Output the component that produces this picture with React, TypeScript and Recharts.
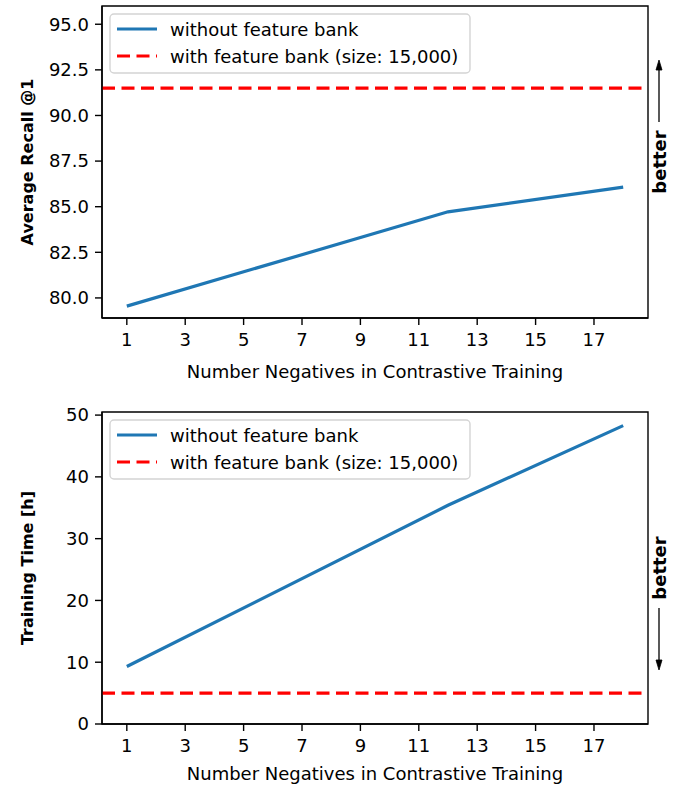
import React from "react";
import { LineChart, Line, XAxis, YAxis, ReferenceLine, ReferenceArea } from "recharts";

// values
const negatives = [1, 12, 18];
const recallWithout = [79.55, 84.72, 86.07];
const recallWithBank = 91.5;
const hoursWithout = [9.3, 35.4, 48.3];
const hoursWithBank = 5.0;

const xTicks = [1, 3, 5, 7, 9, 11, 13, 15, 17];
const recallTicks = [80, 82.5, 85, 87.5, 90, 92.5, 95];
const hoursTicks = [0, 10, 20, 30, 40, 50];

const seriesNames = ["without feature bank", "with feature bank (size: 15,000)"];
const xLabel = "Number Negatives in Contrastive Training";

const BLUE = "#1f77b4";
const RED = "#ff0000";
const FONT = "'DejaVu Sans', sans-serif";

const W = 683;
const PLOT_LEFT = 102;
const PLOT_RIGHT = 648;
const PLOT_H = 312;
const X_AXIS_H = 60;
const X_DOMAIN: [number, number] = [0.15, 18.85];

type PanelProps = {
  values: number[];
  bank: number;
  yDomain: [number, number];
  yTicks: number[];
  yFmt: (v: number) => string;
  yLabel: string;
  arrowUp: boolean;
  height: number;
  plotTop: number;
  xLabelGap: number;
};

const Panel: React.FC<PanelProps> = ({ values, bank, yDomain, yTicks, yFmt, yLabel, arrowUp, height, plotTop, xLabelGap }) => {
  const data = negatives.map((x, i) => ({ x, y: values[i] }));
  const bottom = height - plotTop - PLOT_H - X_AXIS_H;
  const mid = plotTop + PLOT_H / 2;
  const plotBottom = plotTop + PLOT_H;
  const ax = 659;

  // arrow next to "better"
  const start = arrowUp ? mid - 40 : mid + 40;
  const tip = arrowUp ? mid - 102 : mid + 102;
  const d = arrowUp ? 1 : -1;

  const yLab = () => (
    <text x={27} y={mid} transform={`rotate(-90 27 ${mid})`} textAnchor="middle" dominantBaseline="central"
      fontFamily={FONT} fontWeight="bold" fontSize={16} fill="#000">{yLabel}</text>
  );

  const xLab = () => (
    <text x={(PLOT_LEFT + PLOT_RIGHT) / 2} y={plotBottom + xLabelGap} textAnchor="middle"
      fontFamily={FONT} fontSize={18} fill="#000">{xLabel}</text>
  );

  const axisStyle = { stroke: "#000", strokeWidth: 1.4 };
  const tickStyle = { fill: "#000", fontSize: 18, fontFamily: FONT };

  return (
    <div style={{ position: "relative", width: W, height }}>
      <LineChart width={W} height={height} data={data}
        margin={{ top: plotTop, right: W - PLOT_RIGHT, bottom, left: 0 }}>
        <XAxis dataKey="x" type="number" domain={X_DOMAIN} ticks={xTicks} interval={0} allowDataOverflow
          height={X_AXIS_H} tickSize={7} tickMargin={8} axisLine={axisStyle} tickLine={axisStyle} tick={tickStyle}
          label={xLab} />
        <YAxis type="number" domain={yDomain} ticks={yTicks} interval={0} allowDataOverflow width={PLOT_LEFT}
          tickSize={7} tickMargin={6} tickFormatter={yFmt} axisLine={axisStyle} tickLine={axisStyle} tick={tickStyle}
          label={yLab} />
        <ReferenceLine y={bank} stroke={RED} strokeWidth={3.2} strokeDasharray="13 6.5" />
        <Line dataKey="y" stroke={BLUE} strokeWidth={3.2} dot={false} isAnimationActive={false} />
        <ReferenceArea x1={X_DOMAIN[0]} x2={X_DOMAIN[1]} y1={yDomain[0]} y2={yDomain[1]}
          fill="none" fillOpacity={0} stroke="#000" strokeWidth={1.4} />
      </LineChart>
      <svg width={W} height={height} style={{ position: "absolute", left: 0, top: 0, pointerEvents: "none" }}>
        <g transform={`translate(109 ${plotTop + 7})`}>
          <rect x={1} y={1} width={360} height={59} rx={4} fill="rgba(255,255,255,0.8)" stroke="#d4d4d4" strokeWidth={1.4} />
          <line x1={8} y1={16} x2={48} y2={16} stroke={BLUE} strokeWidth={3.2} />
          <line x1={8} y1={43} x2={48} y2={43} stroke={RED} strokeWidth={3.2} strokeDasharray="13 6.5" />
          <text x={61} y={16} dominantBaseline="central" fontFamily={FONT} fontSize={18} fill="#000">{seriesNames[0]}</text>
          <text x={61} y={43} dominantBaseline="central" fontFamily={FONT} fontSize={18} fill="#000">{seriesNames[1]}</text>
        </g>
        <text x={ax} y={mid} transform={`rotate(-90 ${ax} ${mid})`} textAnchor="middle" dominantBaseline="central"
          fontFamily={FONT} fontWeight="bold" fontSize={18} fill="#000">better</text>
        <line x1={ax} y1={start} x2={ax} y2={tip + d * 6} stroke="#000" strokeWidth={1.3} />
        <path d={`M ${ax - 3} ${tip + d * 10} L ${ax} ${tip} L ${ax + 3} ${tip + d * 10} Z`} fill="#000" stroke="#000" strokeWidth={0.8} />
      </svg>
    </div>
  );
};

const App: React.FC = () => (
  <div style={{ position: "absolute", left: 0, top: 0, width: W, height: 785, background: "#fff" }}>
    <Panel values={recallWithout} bank={recallWithBank} yDomain={[78.9, 96.0]} yTicks={recallTicks}
      yFmt={(v) => v.toFixed(1)} yLabel="Average Recall @1" arrowUp height={400} plotTop={6} xLabelGap={60} />
    <Panel values={hoursWithout} bank={hoursWithBank} yDomain={[0, 50.5]} yTicks={hoursTicks}
      yFmt={(v) => String(v)} yLabel="Training Time [h]" arrowUp={false} height={385} plotTop={12} xLabelGap={56} />
  </div>
);

export default App;
